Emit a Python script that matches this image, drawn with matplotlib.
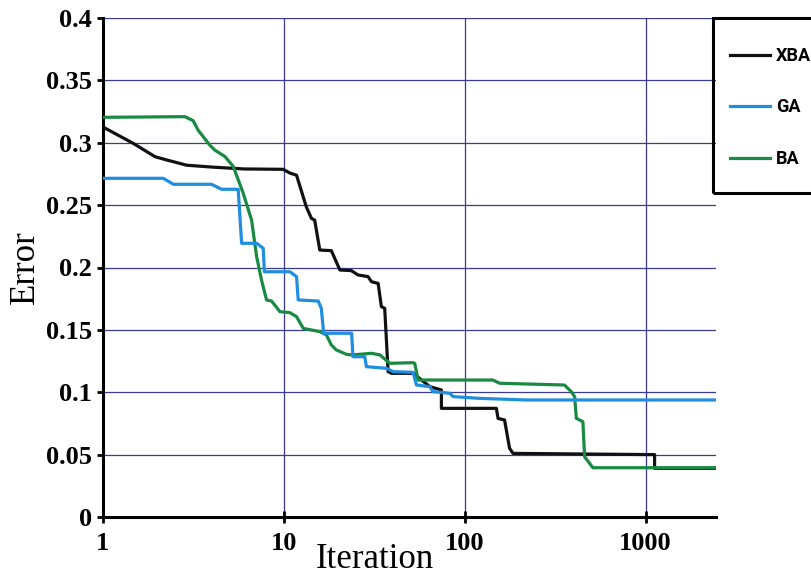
import matplotlib.pyplot as plt
from matplotlib.patches import Rectangle

# values
xba_x = [1, 1.47, 1.94, 2.25, 2.9, 4.0, 6.0, 9.9, 10.8, 11.75, 13.3, 14.2, 14.8, 15.8,
         18.3, 20.4, 23.6, 25.7, 29.2, 30.5, 33.2, 34.6, 36.1, 37.7, 39.4, 51.8, 64.1,
         74.3, 74.3, 149.6, 152.8, 166, 177, 185, 1121, 1121, 2450]
xba_y = [0.3126, 0.2995, 0.2888, 0.2862, 0.282, 0.2805, 0.279, 0.2787, 0.2757, 0.274,
         0.2487, 0.2394, 0.238, 0.214, 0.2135, 0.198, 0.1975, 0.194, 0.1927, 0.1886,
         0.1873, 0.1686, 0.1673, 0.1165, 0.1152, 0.1152, 0.1045, 0.1018, 0.0871, 0.0871,
         0.079, 0.0778, 0.055, 0.051, 0.050, 0.039, 0.039]

ga_x = [1, 2.15, 2.45, 3.98, 4.53, 5.59, 5.84, 7.07, 7.69, 7.8, 10.8, 11.75, 12.0, 15.5,
        16.1, 16.6, 23.7, 24.1, 28.0, 28.6, 36.9, 40.2, 51.8, 54.1, 64.1, 66.8, 82.6,
        86.2, 121, 219, 2450]
ga_y = [0.2715, 0.2715, 0.2667, 0.2667, 0.2627, 0.2627, 0.2194, 0.2194, 0.2154, 0.1966,
        0.1966, 0.1927, 0.174, 0.1731, 0.1673, 0.1473, 0.1473, 0.1285, 0.1285, 0.1205,
        0.1192, 0.1165, 0.116, 0.1058, 0.1045, 0.1005, 0.0992, 0.0965, 0.0951, 0.0938,
        0.0938]

ba_x = [1, 2.84, 3.15, 3.36, 3.9, 4.16, 4.72, 5.25, 5.96, 6.63, 7.07, 7.52, 8.02, 8.55,
        9.51, 10.8, 11.75, 12.8, 15.8, 17.2, 18.3, 19.5, 22.2, 23.7, 30.5, 33.9, 38.5,
        51.8, 52.9, 55.2, 143, 156, 356, 388, 405, 414, 450, 460, 511, 2450]
ba_y = [0.3204, 0.3209, 0.3177, 0.31, 0.298, 0.294, 0.289, 0.281, 0.2595, 0.238, 0.2087,
        0.19, 0.174, 0.1731, 0.1646, 0.1638, 0.1606, 0.1512, 0.1486, 0.1459, 0.1379,
        0.1339, 0.1304, 0.1299, 0.1312, 0.13, 0.1232, 0.1237, 0.1232, 0.1098, 0.1098,
        0.1072, 0.1058, 0.1005, 0.0965, 0.0791, 0.0764, 0.0483, 0.0395, 0.0395]

y_ticks = [0, 0.05, 0.1, 0.15, 0.2, 0.25, 0.3, 0.35, 0.4]
y_labels = ['0', '0.05', '0.1', '0.15', '0.2', '0.25', '0.3', '0.35', '0.4']
x_ticks = [1, 10, 100, 1000]
x_labels = ['1', '10', '100', '1000']

fig = plt.figure(figsize=(8.12, 5.76), dpi=100)
ax = fig.add_axes([103 / 812, 1 - 517 / 576, 613 / 812, 499 / 576])

lw = 2.3
l_xba, = ax.plot(xba_x, xba_y, color='#111111', lw=lw, label='XBA', zorder=3)
l_ba, = ax.plot(ba_x, ba_y, color='#1a8a42', lw=lw, label='BA', zorder=4)
l_ga, = ax.plot(ga_x, ga_y, color='#1f8ee0', lw=lw, label='GA', zorder=5)

ax.set_xscale('log')
ax.set_xlim(1, 2450)
ax.set_ylim(0, 0.4)
ax.set_xticks(x_ticks)
ax.set_xticklabels(x_labels)
ax.xaxis.set_minor_locator(plt.NullLocator())
ax.set_yticks(y_ticks)
ax.set_yticklabels(y_labels)

tick_font = dict(family='Liberation Serif', weight='bold', size=19)
for t in ax.get_xticklabels() + ax.get_yticklabels():
    t.set_fontproperties(tick_font)

ax.grid(True, color='#3a3a94', lw=0.9)
ax.set_axisbelow(True)
for s in ['top', 'right']:
    ax.spines[s].set_visible(False)
for s in ['left', 'bottom']:
    ax.spines[s].set_linewidth(2.2)
ax.tick_params(axis='y', direction='out', length=4, width=2, pad=4)
ax.tick_params(axis='x', direction='inout', length=9, width=2, pad=6)

ax.set_ylabel('Error', family='Liberation Serif', size=25, va='center')
ax.yaxis.set_label_coords((25 - 103) / 613, 0.5)
ax.set_xlabel('Iteration', family='Liberation Serif', size=25, va='center')
ax.xaxis.set_label_coords((375 - 103) / 613, (517 - 559) / 499)

# legend box, partly cut off at the right edge like the original
fig.patches.append(Rectangle((713 / 812, 1 - 193 / 576), 120 / 812, 175 / 576,
                             transform=fig.transFigure, fill=False, ec='black',
                             lw=2.2, zorder=10))
fig.legend(handles=[l_xba, l_ga, l_ba], loc='upper left',
           bbox_to_anchor=(721 / 812, 1 - 38 / 576), frameon=False,
           prop=dict(family='Roboto', weight='bold', size=13),
           handlelength=2.2, handletextpad=0.35, labelspacing=1.85, borderpad=0)

fig.savefig('out.png', dpi=100)
